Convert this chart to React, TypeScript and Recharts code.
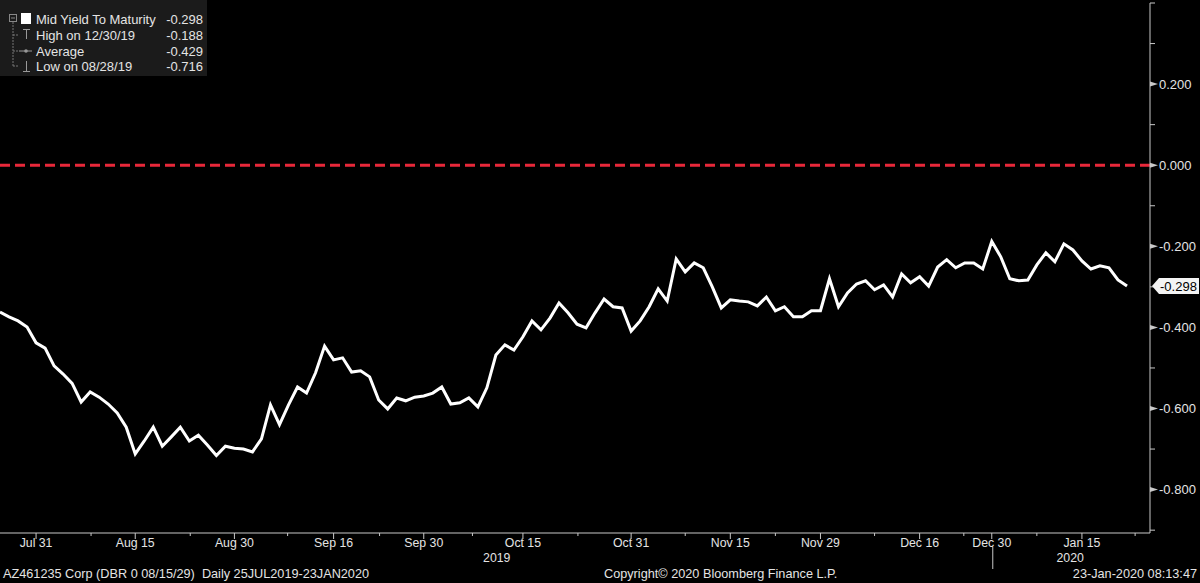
import React from 'react';
import { LineChart, Line, XAxis, YAxis, ReferenceLine } from 'recharts';

// Mid yield to maturity, one value per trading day (25 Jul 2019 - 23 Jan 2020)
const yields: number[] = [
  -0.362, -0.374, -0.384, -0.399, -0.438, -0.451, -0.495, -0.515, -0.538, -0.584,
  -0.559, -0.572, -0.589, -0.611, -0.646, -0.712, -0.680, -0.646, -0.693, -0.670,
  -0.646, -0.680, -0.666, -0.690, -0.716, -0.693, -0.698, -0.700, -0.707, -0.675,
  -0.591, -0.640, -0.591, -0.547, -0.562, -0.512, -0.446, -0.480, -0.475, -0.510,
  -0.507, -0.522, -0.579, -0.601, -0.574, -0.581, -0.572, -0.569, -0.562, -0.547,
  -0.589, -0.586, -0.574, -0.596, -0.549, -0.468, -0.443, -0.456, -0.423, -0.384,
  -0.406, -0.377, -0.340, -0.364, -0.392, -0.401, -0.364, -0.330, -0.349, -0.352,
  -0.409, -0.384, -0.349, -0.305, -0.335, -0.231, -0.263, -0.241, -0.253, -0.300,
  -0.352, -0.332, -0.335, -0.337, -0.347, -0.325, -0.359, -0.349, -0.374, -0.374,
  -0.359, -0.359, -0.280, -0.349, -0.315, -0.293, -0.285, -0.307, -0.295, -0.325,
  -0.268, -0.290, -0.275, -0.298, -0.251, -0.233, -0.253, -0.241, -0.241, -0.256,
  -0.188, -0.226, -0.280, -0.285, -0.283, -0.246, -0.216, -0.238, -0.194, -0.209,
  -0.236, -0.256, -0.248, -0.253, -0.283, -0.298,
];

const xMajorTickPos = [4, 15, 26, 37, 47, 58, 70, 81, 91, 102, 110, 120];
const xMajorTickLabels = ['Jul 31', 'Aug 15', 'Aug 30', 'Sep 16', 'Sep 30', 'Oct 15', 'Oct 31', 'Nov 15', 'Nov 29', 'Dec 16', 'Dec 30', 'Jan 15'];
const xMinorTickPos = [10.1, 21.1, 31.9, 42.1, 52.4, 64.1, 76, 86, 97, 106.9, 115, 125.9];
const yearTickPos = [55.1, 118.7];
const yearTickLabels = ['2019', '2020'];
const yearDividerPos = 110;

const yMajorTicks = [0.2, 0, -0.2, -0.4, -0.6, -0.8];
const yMinorTicks = [0.4, 0.3, 0.1, -0.1, -0.3, -0.5, -0.7, -0.9];

const legendLabels = ['Mid Yield To Maturity', 'High on 12/30/19', 'Average', 'Low on 08/28/19'];
const legendValues = ['-0.298', '-0.188', '-0.429', '-0.716'];

const footerLeft = 'AZ461235 Corp (DBR 0 08/15/29)  Daily 25JUL2019-23JAN2020';
const footerMid = 'Copyright\u00A9 2020 Bloomberg Finance L.P.';
const footerRight = '23-Jan-2020 08:13:47';

const data = yields.map((v, i) => ({ i, v }));
const lastIndex = yields.length - 1;

const FONT = '"Liberation Sans", Arial, sans-serif';
const TXT = '#e4e4e4';
const AXIS = '#c8c8c8';

const XTick = (props: any) => {
  const { x, y, payload } = props;
  const val = payload.value;
  const mi = xMajorTickPos.indexOf(val);
  if (mi >= 0) {
    return (
      <g>
        <line x1={x} y1={y} x2={x} y2={y + 6} stroke={AXIS} strokeWidth={1} />
        <text x={x} y={y + 14} textAnchor="middle" fill={TXT} fontSize={12.3} fontFamily={FONT}>
          {xMajorTickLabels[mi]}
        </text>
        {val === yearDividerPos ? (
          <line x1={x + 1} y1={y + 14} x2={x + 1} y2={y + 36} stroke={AXIS} strokeWidth={1} />
        ) : null}
      </g>
    );
  }
  const yi = yearTickPos.indexOf(val);
  if (yi >= 0) {
    return (
      <text x={x} y={y + 29} textAnchor="middle" fill={TXT} fontSize={12.3} fontFamily={FONT}>
        {yearTickLabels[yi]}
      </text>
    );
  }
  return <line x1={x} y1={y} x2={x} y2={y + 3} stroke={AXIS} strokeWidth={1} />;
};

const YTick = (props: any) => {
  const { x, y, payload } = props;
  const val = payload.value;
  const isMajor = yMajorTicks.some((t) => Math.abs(t - val) < 1e-9);
  if (isMajor) {
    return (
      <g>
        <polygon points={`${x},${y - 2.5} ${x + 8},${y} ${x},${y + 2.5}`} fill={AXIS} />
        <text x={x + 9} y={y + 4.5} textAnchor="start" fill={TXT} fontSize={13} fontFamily={FONT}>
          {val.toFixed(3)}
        </text>
      </g>
    );
  }
  return <line x1={x} y1={y} x2={x + 5} y2={y} stroke={AXIS} strokeWidth={1} />;
};

const LastLabel = (props: any) => {
  const { x, y, index, value } = props;
  if (index !== lastIndex) return null;
  const tx = x + 25;
  return (
    <g>
      <polygon
        points={`${tx},${y} ${tx + 7},${y - 8} ${tx + 47},${y - 8} ${tx + 47},${y + 8} ${tx + 7},${y + 8}`}
        fill="#f4f4f4"
      />
      <text x={tx + 8} y={y + 4.5} fill="#000" fontSize={13} fontFamily={FONT}>
        {Number(value).toFixed(3)}
      </text>
    </g>
  );
};

const Legend = () => {
  const rowY = [19, 35, 51, 66];
  return (
    <g>
      <rect x={0} y={0} width={207} height={76} fill="#1b1b1b" />
      <line x1={13} y1={22} x2={13} y2={67} stroke="#777" strokeWidth={1} strokeDasharray="2 1" />
      {rowY.slice(1).map((ry, k) => (
        <line key={k} x1={13} y1={ry} x2={19} y2={ry} stroke="#777" strokeWidth={1} strokeDasharray="2 1" />
      ))}
      <rect x={9.5} y={14.5} width={7} height={7} fill="none" stroke="#888" strokeWidth={1} />
      <line x1={11} y1={18} x2={15} y2={18} stroke="#888" strokeWidth={1} />
      <rect x={21} y={13} width={10} height={11} fill="#ffffff" />
      <line x1={23} y1={29.5} x2={30} y2={29.5} stroke="#999" strokeWidth={1} />
      <line x1={26.5} y1={29.5} x2={26.5} y2={39} stroke="#999" strokeWidth={1} />
      <line x1={19} y1={51} x2={32} y2={51} stroke="#999" strokeWidth={1} />
      <circle cx={26} cy={51} r={1.8} fill="#999" />
      <line x1={26.5} y1={61} x2={26.5} y2={71} stroke="#999" strokeWidth={1} />
      <line x1={23} y1={71.5} x2={30} y2={71.5} stroke="#999" strokeWidth={1} />
      {legendLabels.map((l, k) => (
        <text key={'l' + k} x={36} y={rowY[k] + 4.5} fill={TXT} fontSize={13} fontFamily={FONT}>
          {l}
        </text>
      ))}
      {legendValues.map((v, k) => (
        <text key={'v' + k} x={203} y={rowY[k] + 4.5} textAnchor="end" fill={TXT} fontSize={13} fontFamily={FONT}>
          {v}
        </text>
      ))}
    </g>
  );
};

export default function App() {
  return (
    <div style={{ position: 'absolute', left: 0, top: 0, width: 1200, height: 583, background: '#000', overflow: 'hidden' }}>
      <LineChart width={1200} height={583} data={data} margin={{ top: 3, right: 0, bottom: 0, left: 0 }}>
        <XAxis
          type="number"
          dataKey="i"
          domain={[0, 127.55]}
          allowDataOverflow
          ticks={[...xMajorTickPos, ...xMinorTickPos, ...yearTickPos]}
          interval={0}
          tick={<XTick />}
          tickLine={false}
          tickSize={0}
          tickMargin={0}
          axisLine={{ stroke: AXIS, strokeWidth: 1 }}
          height={50}
        />
        <YAxis
          orientation="right"
          type="number"
          domain={[-0.907, 0.4]}
          allowDataOverflow
          ticks={[...yMinorTicks, ...yMajorTicks].sort((a, b) => b - a)}
          interval={0}
          tick={<YTick />}
          tickLine={false}
          tickSize={0}
          tickMargin={0}
          axisLine={{ stroke: AXIS, strokeWidth: 1 }}
          width={50}
        />
        <ReferenceLine y={0} stroke="#e8283a" strokeWidth={3} strokeDasharray="10 5" />
        <Line
          type="linear"
          dataKey="v"
          stroke="#ffffff"
          strokeWidth={3}
          dot={false}
          isAnimationActive={false}
          label={<LastLabel />}
        />
      </LineChart>
      <svg width={1200} height={583} style={{ position: 'absolute', left: 0, top: 0, pointerEvents: 'none' }}>
        <Legend />
        <text x={3} y={578} fill={TXT} fontSize={12.7} fontFamily={FONT} style={{ whiteSpace: 'pre' }}>{footerLeft}</text>
        <text x={604} y={578} fill={TXT} fontSize={12.7} fontFamily={FONT}>{footerMid}</text>
        <text x={1197} y={578} textAnchor="end" fill={TXT} fontSize={12.7} fontFamily={FONT}>{footerRight}</text>
      </svg>
    </div>
  );
}
